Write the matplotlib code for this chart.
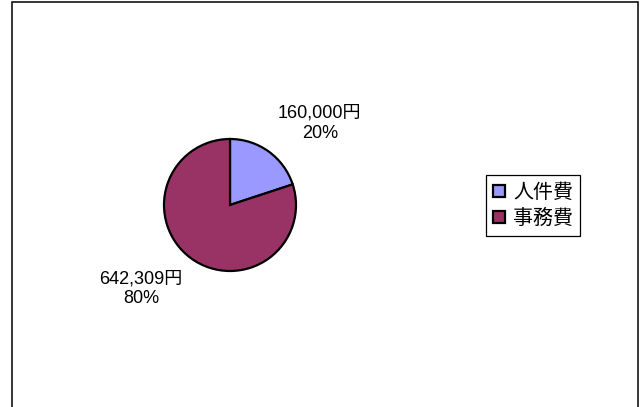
import matplotlib
matplotlib.use("Agg")
from matplotlib import pyplot as plt
from matplotlib.patches import Rectangle, Patch

plt.rcParams['font.family'] = ['Liberation Sans', 'Noto Sans CJK JP', 'DejaVu Sans']

categories = ['人件費', '事務費']
amounts = [160000, 642309]
colors = ['#9999FF', '#993366']

W, H = 640, 407
fig = plt.figure(figsize=(W / 100, H / 100), dpi=100)
fig.set_facecolor("white")

# pie centre and radius in pixels
cx, cy, r = 230, 205, 66
ax = fig.add_axes([(cx - r) / W, (H - cy - r) / H, 2 * r / W, 2 * r / H])
wedges, _ = ax.pie(amounts, colors=colors, startangle=90, counterclock=False,
                   wedgeprops=dict(edgecolor='black', linewidth=1.6))
ax.set_xlim(-1, 1)
ax.set_ylim(-1, 1)
ax.set_aspect('equal')
ax.axis('off')

total = sum(amounts)
label_pos = [(1.36, 1.24), (-1.35, -1.27)]
for (x, y), v in zip(label_pos, amounts):
    ax.text(x, y, f"{v:,}円\n{v / total:.0%}", ha='center', va='center',
            fontsize=13, linespacing=1.25, color='black', clip_on=False)

handles = [Patch(facecolor=c, edgecolor='black', linewidth=1.6) for c in colors]
leg = fig.legend(handles, categories, loc='upper left',
                 bbox_to_anchor=(486 / W, 1 - 175 / H), borderaxespad=0,
                 fancybox=False, edgecolor='black', framealpha=1,
                 prop={'family': ['Noto Sans CJK JP'], 'size': 14.4},
                 handlelength=0.6, handleheight=0.6,
                 handletextpad=0.4, labelspacing=0.25, borderpad=0.35)
leg.get_frame().set_linewidth(0.9)

fig.patches.append(Rectangle((12 / W, -0.02), (638 - 12) / W, 1 - 1.5 / H + 0.02,
                             transform=fig.transFigure, fill=False,
                             edgecolor='black', linewidth=1.1))

fig.savefig("out.png", dpi=100)
